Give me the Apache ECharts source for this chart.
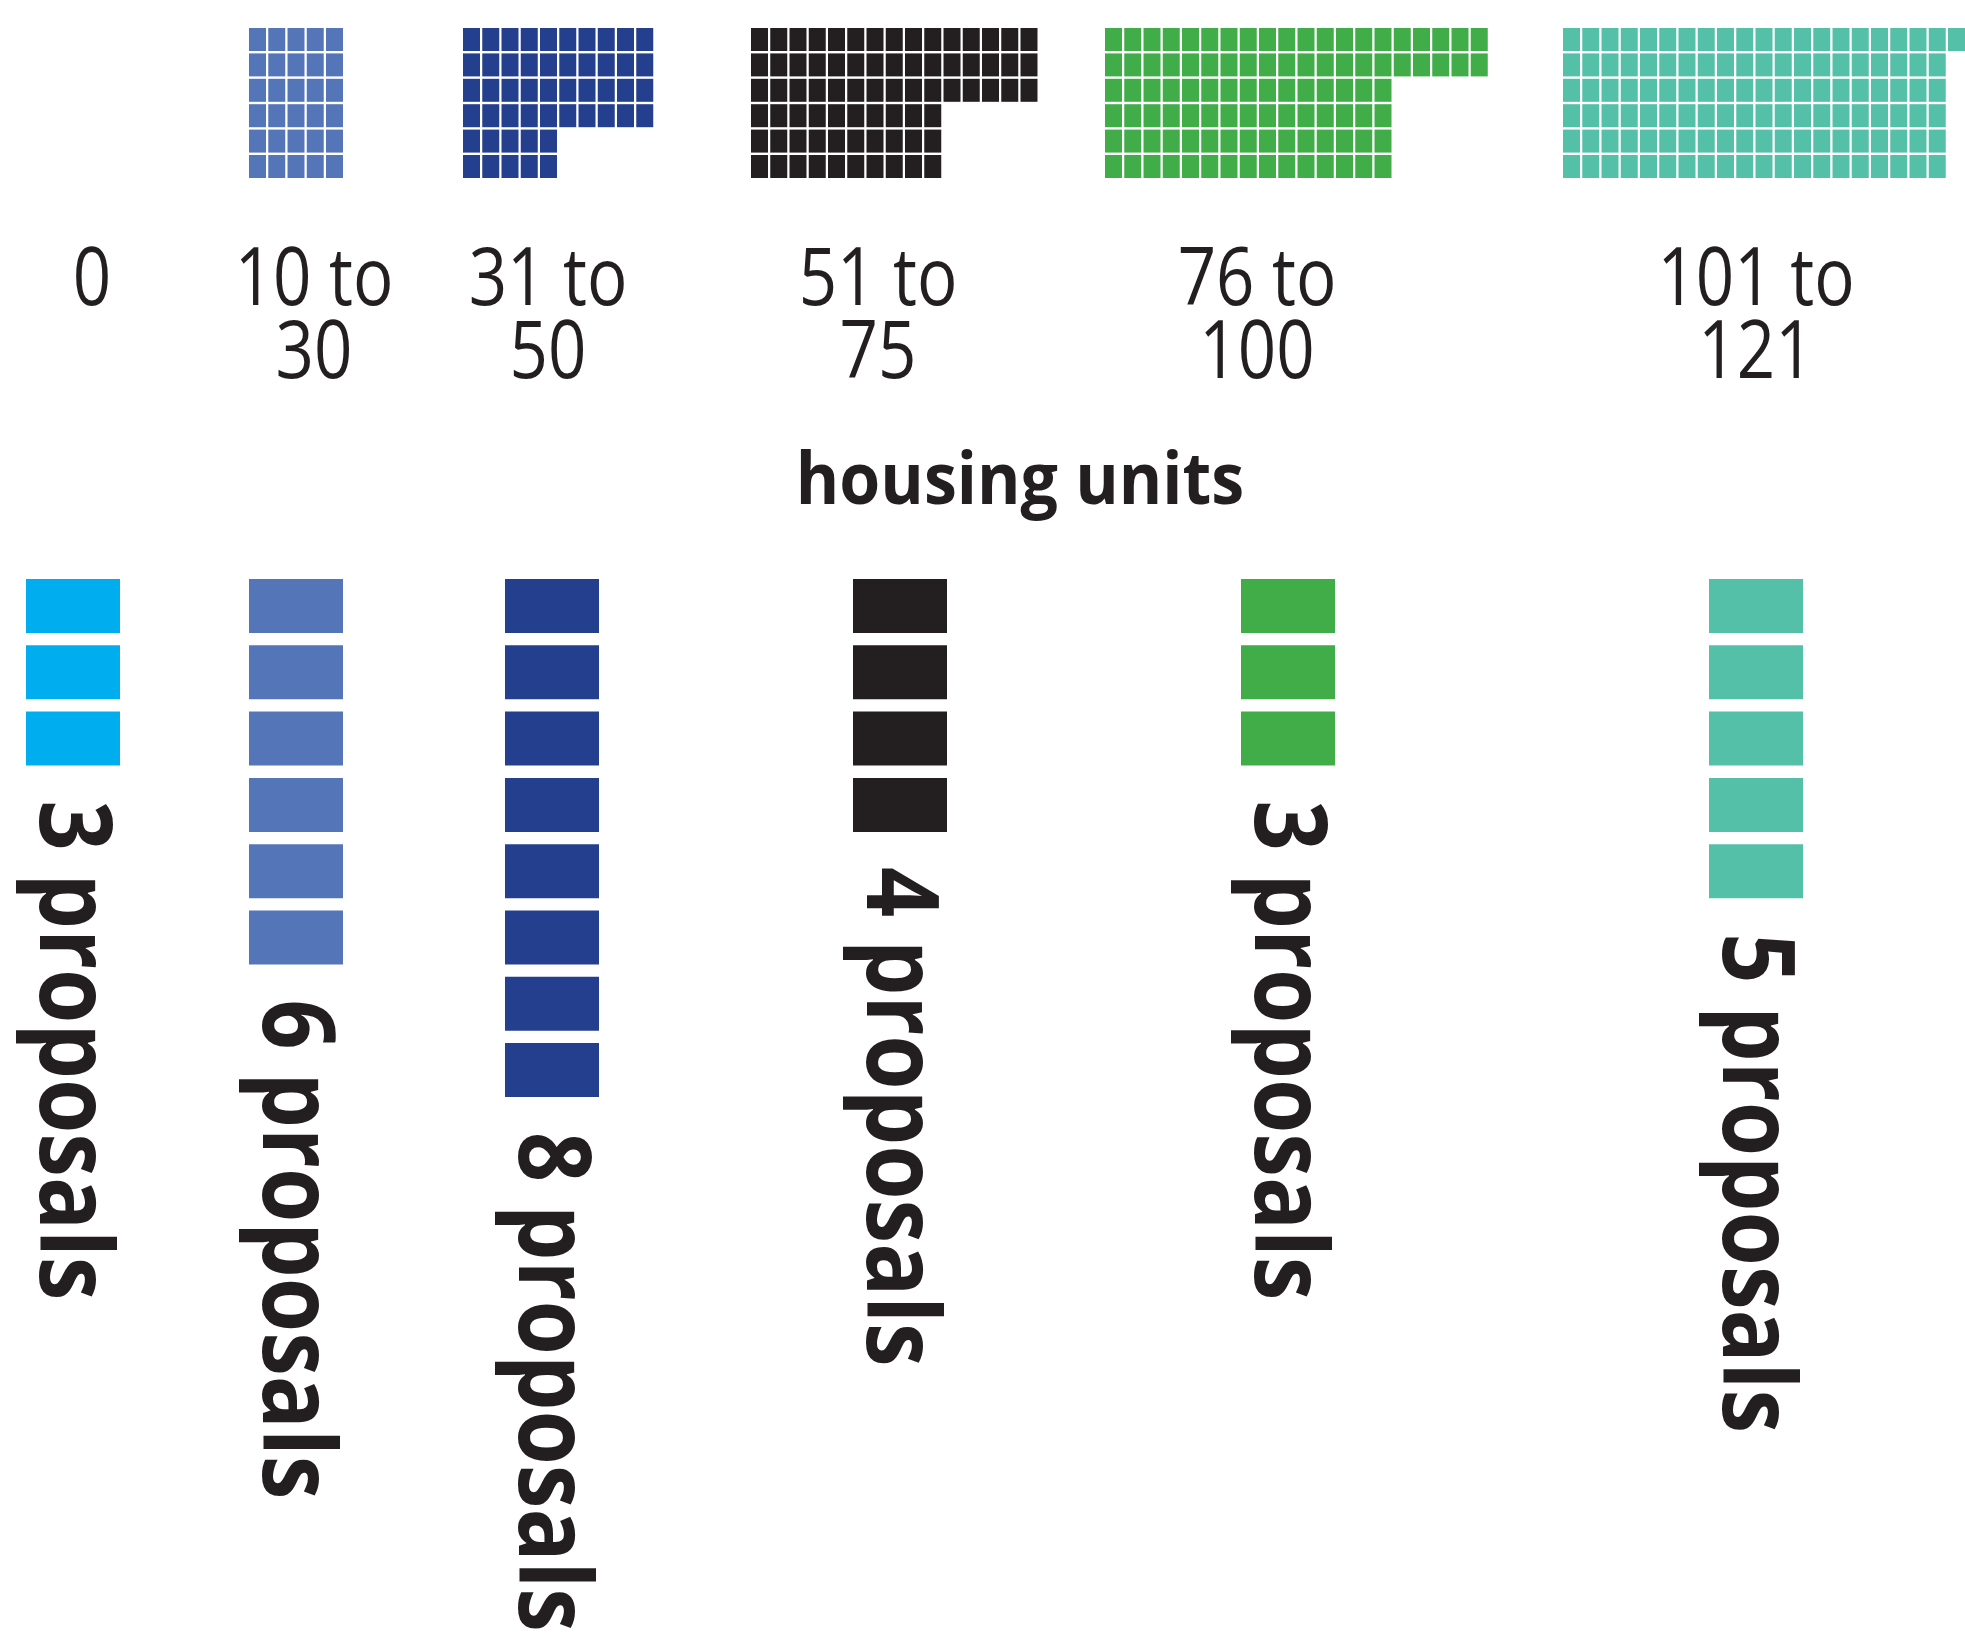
<!DOCTYPE html>
<html lang="en">
<head>
<meta charset="utf-8">
<script src="https://cdn.jsdelivr.net/npm/echarts@6/dist/echarts.min.js"></script>
<style>
    html, body { margin: 0; padding: 0; background: #fff; }
    #chartMain { width: 1965px; height: 1639px; }
</style>
</head>
<body>

<div id="chartMain"></div>

<script>
    // data
    var categories = ['0', '10 to\n30', '31 to\n50', '51 to\n75', '76 to\n100', '101 to\n121'];
    var housingUnits = [0, 30, 50, 75, 100, 121];
    var proposals = [3, 6, 8, 4, 3, 5];
    var axisTitle = 'housing units';

    // layout + style (page px, the axes run 0..1965 / 0..1639)
    var colors = ['#00aeef', '#5476b8', '#243f8e', '#231f20', '#41ad49', '#54c0a8'];
    var waffleLeft = [0, 249, 463, 751, 1105, 1563];
    var barLeft = [26, 249, 505, 853, 1241, 1709];
    var labelCenter = [92, 314, 548, 878, 1257, 1756];
    var cellW = 17, cellH = 23, cellStepX = 19.25, cellStepY = 25.4, waffleTop = 28;
    var barW = 94, barH = 54, barStep = 66.3, barTop = 579;
    var textColor = '#231f20';

    var cells = [];
    housingUnits.forEach(function (n, g) {
        for (var i = 0; i < n; i++) cells.push([g, i]);
    });
    var bars = [];
    proposals.forEach(function (n, g) {
        for (var k = 0; k < n; k++) bars.push([g, k]);
    });
    var groups = categories.map(function (c, g) { return [g, 0]; });

    var myChart = echarts.init(document.getElementById('chartMain'));

    myChart.setOption({
        animation: false,
        grid: { left: 0, right: 0, top: 0, bottom: 0 },
        xAxis: { type: 'value', min: 0, max: 1965, show: false },
        yAxis: { type: 'value', min: 0, max: 1639, inverse: true, show: false },
        graphic: [{
            type: 'text',
            x: 1020, y: 483,
            scaleX: 0.92,
            style: {
                text: axisTitle, fill: textColor,
                fontFamily: 'Open Sans', fontWeight: 'bold', fontSize: 72,
                align: 'center', verticalAlign: 'middle'
            }
        }],
        series: [
            {
                // waffle: blocks of 5 columns x 6 rows
                type: 'custom',
                clip: false,
                data: cells,
                renderItem: function (params, api) {
                    var g = api.value(0), i = api.value(1);
                    var block = Math.floor(i / 30), w = i % 30;
                    var col = block * 5 + w % 5, row = Math.floor(w / 5);
                    var p = api.coord([waffleLeft[g] + col * cellStepX, waffleTop + row * cellStepY]);
                    var s = api.size([cellW, cellH]);
                    return {
                        type: 'rect',
                        shape: { x: p[0], y: p[1], width: s[0], height: s[1] },
                        style: { fill: colors[g] }
                    };
                }
            },
            {
                // proposal bars
                type: 'custom',
                clip: false,
                data: bars,
                renderItem: function (params, api) {
                    var g = api.value(0), k = api.value(1);
                    var p = api.coord([barLeft[g], barTop + k * barStep]);
                    var s = api.size([barW, barH]);
                    return {
                        type: 'rect',
                        shape: { x: p[0], y: p[1], width: s[0], height: s[1] },
                        style: { fill: colors[g] }
                    };
                }
            },
            {
                // category labels on top
                type: 'custom',
                clip: false,
                data: groups,
                renderItem: function (params, api) {
                    var g = api.value(0);
                    var p = api.coord([labelCenter[g], 246]);
                    return {
                        type: 'text',
                        x: p[0], y: p[1],
                        scaleX: 0.84,
                        style: {
                            text: categories[g], fill: textColor,
                            fontFamily: 'Open Sans', fontSize: 80, lineHeight: 73,
                            align: 'center', verticalAlign: 'top'
                        }
                    };
                }
            },
            {
                // "n proposals", rotated clockwise
                type: 'custom',
                clip: false,
                data: groups,
                renderItem: function (params, api) {
                    var g = api.value(0);
                    var n = proposals[g];
                    var p = api.coord([barLeft[g] + barW / 2 - 5, barTop + n * barStep - (barStep - barH) + 35]);
                    return {
                        type: 'text',
                        x: p[0], y: p[1],
                        rotation: -Math.PI / 2,
                        scaleX: 0.878,
                        style: {
                            text: n + ' proposals', fill: textColor,
                            fontFamily: 'Open Sans', fontWeight: 'bold', fontSize: 100,
                            align: 'left', verticalAlign: 'middle'
                        }
                    };
                }
            }
        ]
    });
</script>
</body>
</html>
